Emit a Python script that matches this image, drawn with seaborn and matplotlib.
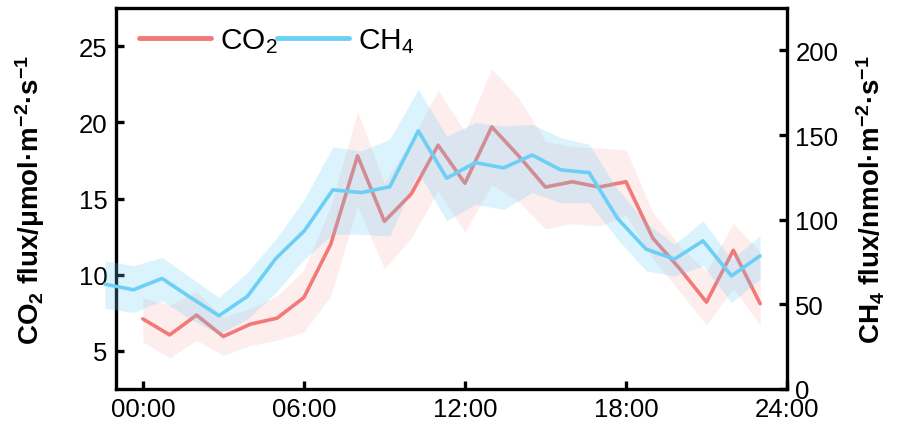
import numpy as np
import pandas as pd
import matplotlib
matplotlib.use("Agg")
import matplotlib.pyplot as plt
import seaborn as sns

# ---- data ----
hours = list(range(24))
co2_mean = [7.1, 6.05, 7.35, 5.95, 6.75, 7.15, 8.5, 12.0, 17.8, 13.5, 15.3, 18.5, 16.0, 19.7,
            17.8, 15.75, 16.1, 15.75, 16.1, 12.4, 10.4, 8.2, 11.6, 8.1]
co2_upper = [8.5, 8.0, 8.9, 7.2, 7.8, 8.6, 10.3, 14.5, 20.7, 16.0, 18.8, 22.1, 19.4, 23.5,
             21.6, 18.75, 18.4, 18.3, 18.2, 14.1, 11.9, 10.2, 13.35, 11.5]
co2_lower = [5.6, 4.55, 5.7, 4.7, 5.35, 5.7, 6.25, 8.6, 14.5, 10.4, 12.4, 15.5, 12.8, 15.9,
             14.8, 13.0, 13.35, 13.2, 13.9, 11.05, 8.9, 6.7, 9.1, 6.7]

ch4_index = list(range(24))
ch4_mean = [61.9, 58.6, 65.3, 54.1, 43.3, 54.7, 77.1, 93.4, 117.6, 116.0, 119.4, 152.4,
            124.5, 133.7, 130.6, 138.2, 129.4, 127.8, 100.7, 82.6, 76.7, 87.5, 66.8, 78.6]
ch4_upper = [75.7, 72.8, 77.7, 65.9, 54.1, 68.8, 88.5, 112.0, 143.0, 140.6, 147.5, 177.0,
             149.4, 157.3, 155.3, 156.3, 148.4, 144.5, 118.0, 98.3, 85.5, 99.3, 76.7, 90.4]
ch4_lower = [47.6, 45.2, 52.1, 41.3, 32.4, 41.3, 57.0, 76.7, 91.4, 91.4, 90.4, 128.0,
             99.3, 109.0, 106.0, 116.0, 110.0, 110.0, 88.5, 69.8, 66.8, 72.8, 51.1, 64.9]

xtick_vals = [0, 6, 12, 18, 24]
xtick_labels = ["00:00", "06:00", "12:00", "18:00", "24:00"]
co2_ticks = [5, 10, 15, 20, 25]
ch4_ticks = [0, 50, 100, 150, 200]

df_co2 = pd.DataFrame({"hour": hours, "flux": co2_mean})
df_ch4 = pd.DataFrame({"idx": ch4_index, "flux": ch4_mean})

# ---- style ----
sns.set_style("ticks")
plt.rcParams["font.family"] = ["Liberation Sans", "DejaVu Sans"]
plt.rcParams["mathtext.fontset"] = "custom"
plt.rcParams["mathtext.rm"] = "Liberation Sans"
plt.rcParams["mathtext.it"] = "Liberation Sans:italic"
plt.rcParams["mathtext.bf"] = "Liberation Sans:bold"
plt.rcParams["text.color"] = "black"
plt.rcParams["axes.labelcolor"] = "black"
plt.rcParams["xtick.color"] = "black"
plt.rcParams["ytick.color"] = "black"

RED = "#F37878"
BLUE = "#6CCFF6"

fig = plt.figure(figsize=(9, 4.27), dpi=100)
pos = [116 / 900, 37 / 427, (787 - 116) / 900, (390 - 9) / 427]
ax = fig.add_axes(pos)
ax2 = fig.add_axes(pos, frameon=False)
ax2.set_zorder(ax.get_zorder() + 1)
ax2.patch.set_visible(False)

# CO2
ax.fill_between(hours, co2_lower, co2_upper, color=RED, alpha=0.13, lw=0)
sns.lineplot(data=df_co2, x="hour", y="flux", ax=ax, color=RED, lw=2.6, legend=False)
ax.set_xlim(-1, 24)
ax.set_ylim(2.5, 27.5)
ax.set_xticks(xtick_vals)
ax.set_xticklabels(xtick_labels)
ax.set_yticks(co2_ticks)
ax.set_xlabel("")
ax.set_ylabel(r"CO$_\mathbf{2}$ flux/μmol·m$^{\mathbf{-2}}$·s$^{\mathbf{-1}}$",
              fontsize=20, fontweight="bold", labelpad=23, color="black")

# CH4
ax2.fill_between(ch4_index, ch4_lower, ch4_upper, color=BLUE, alpha=0.24, lw=0, clip_on=False)
sns.lineplot(data=df_ch4, x="idx", y="flux", ax=ax2, color=BLUE, lw=2.6, legend=False,
             clip_on=False)
ax2.set_xlim(0.386, 23.95)
ax2.set_ylim(0, 225)
ax2.xaxis.set_visible(False)
ax2.yaxis.tick_right()
ax2.yaxis.set_label_position("right")
ax2.set_yticks(ch4_ticks)
ax2.set_ylabel(r"CH$_\mathbf{4}$ flux/nmol·m$^{\mathbf{-2}}$·s$^{\mathbf{-1}}$",
               fontsize=20, fontweight="bold", labelpad=12, color="black")
ax2.set_xlabel("")

for s in ax.spines.values():
    s.set_linewidth(2.4)
    s.set_color("black")
for a in (ax, ax2):
    a.tick_params(direction="in", length=6, width=2.4, labelsize=18.5, pad=6,
                  colors="black", labelcolor="black")

# legend
from matplotlib.lines import Line2D
handles = [Line2D([], [], color=RED, lw=3.5), Line2D([], [], color=BLUE, lw=3.5)]
ax2.legend(handles, ["CO$_2$", "CH$_4$"], loc="upper left", bbox_to_anchor=(0.01, 0.995),
           ncol=2, frameon=False, fontsize=21.5, handlelength=2.4, handletextpad=0.3,
           columnspacing=0.0, borderaxespad=0.15, labelcolor="black")

fig.savefig("out.png", dpi=100)
